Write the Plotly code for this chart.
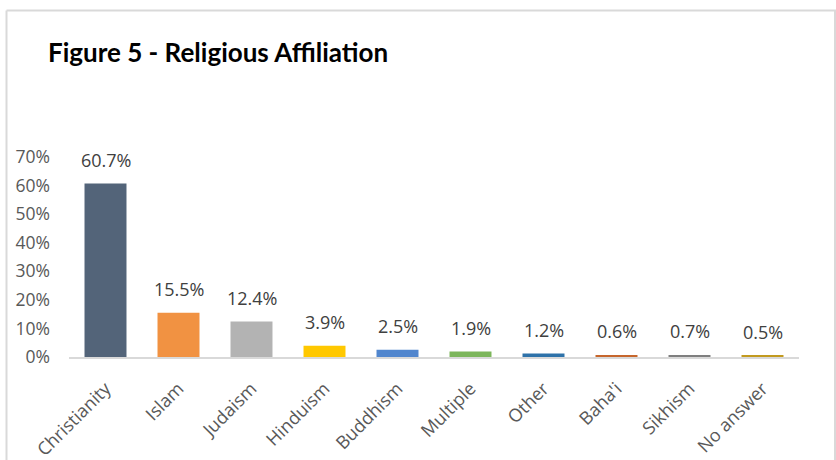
import plotly.graph_objects as go

# Religious affiliation shares (fraction of respondents)
categories = ["Christianity", "Islam", "Judaism", "Hinduism", "Buddhism",
              "Multiple", "Other", "Baha'i", "Sikhism", "No answer"]
shares = [0.607, 0.155, 0.124, 0.039, 0.025, 0.019, 0.012, 0.006, 0.007, 0.005]
bar_colors = ["#536479", "#F19242", "#B3B3B3", "#FFC800", "#5186CE",
              "#7CB65B", "#2E72A9", "#C6662C", "#7F7F7F", "#C29A1F"]
y_tick_values = [0, 0.1, 0.2, 0.3, 0.4, 0.5, 0.6, 0.7]
y_tick_labels = ["0%", "10%", "20%", "30%", "40%", "50%", "60%", "70%"]

W, H = 836, 460
L, R, T, B = 69, 37, 157, 103
plot_w = W - L - R
plot_h = H - T - B

fig = go.Figure()
fig.add_trace(go.Bar(
    x=categories,
    y=shares,
    marker=dict(color=bar_colors, line=dict(width=0)),
    width=0.575,
    hoverinfo="x+y",
))

# value labels above each bar
for cat, val in zip(categories, shares):
    fig.add_annotation(
        x=cat, y=val, xref="x", yref="y",
        text=f"{val * 100:.1f}%",
        showarrow=False, yanchor="middle", yshift=24,
        font=dict(family="Open Sans", size=18, color="#404040"),
    )

# chart frame (thin light-grey border)
def px_x(px):
    return (px - L) / plot_w

def px_y(py):
    return (H - B - py) / plot_h

frame = dict(color="#D9D9D9", width=2)
fig.add_shape(type="line", xref="paper", yref="paper",
              x0=px_x(6.5), x1=px_x(836), y0=px_y(10.5), y1=px_y(10.5), line=frame)
fig.add_shape(type="line", xref="paper", yref="paper",
              x0=px_x(6.5), x1=px_x(6.5), y0=px_y(10.5), y1=px_y(480), line=frame)
fig.add_shape(type="line", xref="paper", yref="paper",
              x0=px_x(835), x1=px_x(835), y0=px_y(10.5), y1=px_y(480), line=frame)

fig.update_layout(
    width=W, height=H,
    margin=dict(l=L, r=R, t=T, b=B, pad=0, autoexpand=False),
    paper_bgcolor="white",
    plot_bgcolor="white",
    showlegend=False,
    bargap=0.425,
    title=dict(
        text="<b>Figure 5 - Religious Affiliation</b>",
        x=48 / W, xanchor="left", xref="container",
        y=1 - 53 / H, yanchor="middle", yref="container",
        font=dict(family="Lato", size=26, color="#000000"),
    ),
    xaxis=dict(
        showline=True, linecolor="#D9D9D9", linewidth=2,
        ticks="", tickangle=-45, automargin=False,
        ticklabelstandoff=12,
        tickfont=dict(family="Open Sans", size=18, color="#595959"),
        showgrid=False, zeroline=False,
    ),
    yaxis=dict(
        range=[0, 0.7], automargin=False,
        tickvals=y_tick_values, ticktext=y_tick_labels,
        showline=False, showgrid=False, zeroline=False, ticks="",
        ticklabelstandoff=18,
        tickfont=dict(family="Open Sans", size=17.5, color="#595959"),
    ),
)

fig.write_html("out.html")
